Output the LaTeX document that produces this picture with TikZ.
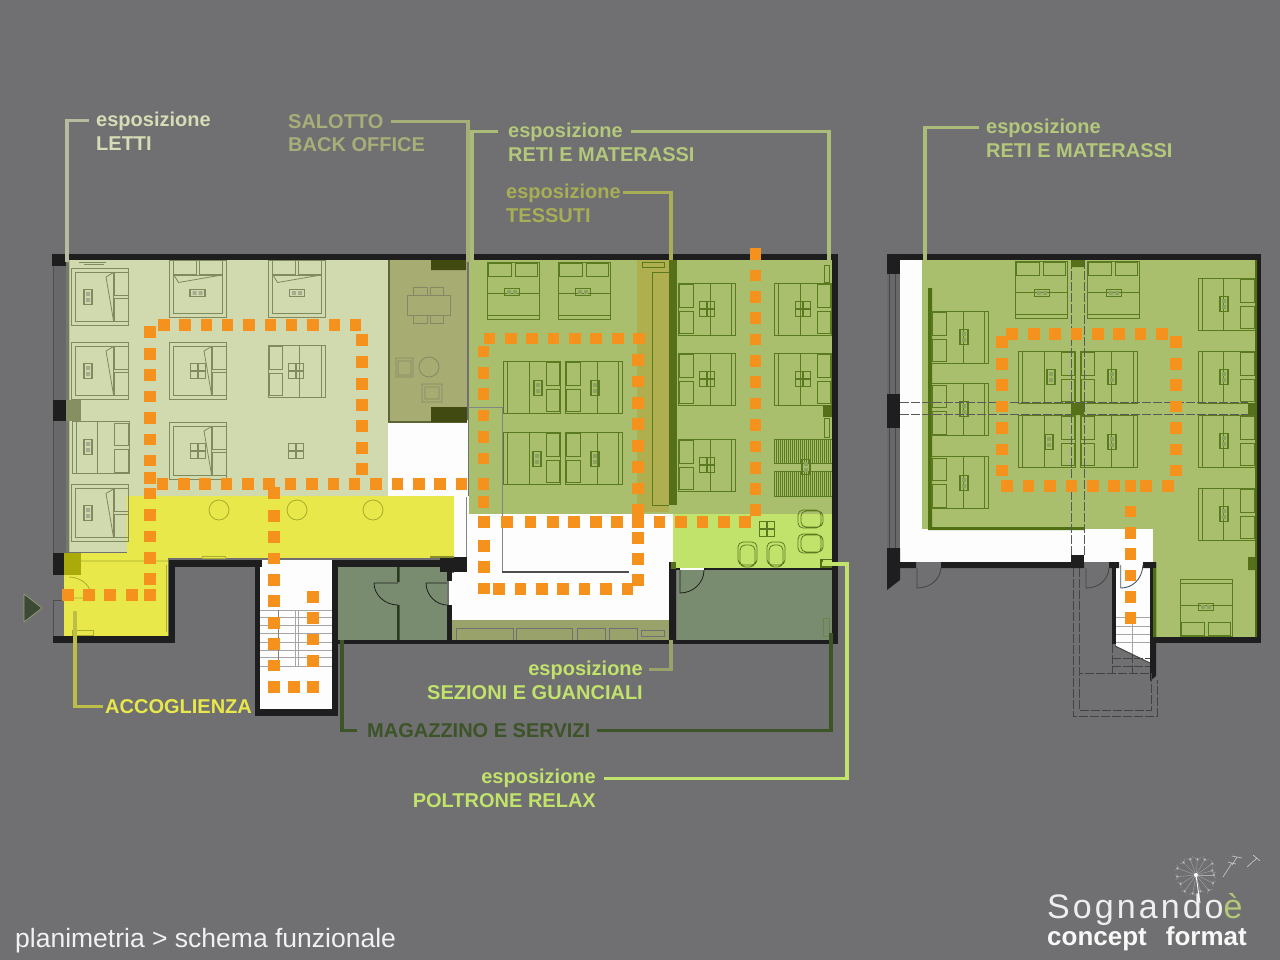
\documentclass[tikz,border=0pt]{standalone}
\usepackage{fontspec}
\setmainfont{Liberation Sans}
\newfontfamily\logofont[LetterSpace=9]{Liberation Sans}
\definecolor{bgg}{HTML}{706F71}
\definecolor{wallc}{HTML}{1E1E1E}
\definecolor{lettiz}{HTML}{D1DAAF}
\definecolor{salz}{HTML}{A6AC72}
\definecolor{salk}{HTML}{414A10}
\definecolor{greenz}{HTML}{A9BF6E}
\definecolor{tessz}{HTML}{B0AF50}
\definecolor{darkg}{HTML}{56701A}
\definecolor{wallg}{HTML}{4F7012}
\definecolor{yellz}{HTML}{E8E84B}
\definecolor{poltz}{HTML}{C2E36B}
\definecolor{magz}{HTML}{7A8C70}
\definecolor{whz}{HTML}{FDFDFD}
\definecolor{orng}{HTML}{F5921E}
\definecolor{shelf}{HTML}{9AA26C}
\definecolor{lineL}{HTML}{7F8A5E}
\definecolor{lineG}{HTML}{5A7A20}
\definecolor{lineY}{HTML}{A9AC2E}
\definecolor{txL}{HTML}{D6DDB6}
\definecolor{txS}{HTML}{A8AE78}
\definecolor{txR}{HTML}{B4C87C}
\definecolor{txT}{HTML}{A8AE55}
\definecolor{txM}{HTML}{3C5428}
\definecolor{pilA}{HTML}{858F62}
\definecolor{pilB}{HTML}{AAAA0A}
\definecolor{yedge}{HTML}{8A8D2A}
\definecolor{trif}{HTML}{3C4A35}
\definecolor{ledA}{HTML}{BDBD4A}
\definecolor{doorb}{HTML}{4A5566}
\tikzset{
  x=1bp,y=-1bp,
  fur/.style={draw=lineL,line width=.8bp},
  wall/.style={fill=wallc,draw=none},
  leadline/.style={line width=3.2bp,line cap=butt,line join=miter},
  lab/.style={inner sep=0pt,anchor=base west,font=\bfseries\fontsize{20bp}{24bp}\selectfont},
  labr/.style={inner sep=0pt,anchor=base east,font=\bfseries\fontsize{20bp}{24bp}\selectfont},
  grayline/.style={draw=#1,line width=.9bp},
  dashl/.style={draw=#1,line width=.8bp,dash pattern=on 9bp off 2bp},
}
% pillows on local +x: plain bed
\newcommand{\plainbed}[3]{\begin{scope}[shift={(#1,#2)},rotate=#3]
  \draw[fur] (-28.5,-26) rectangle (28.5,26);
  \draw[fur] (-24.5,-26) -- (-24.5,26) (-3,-26) -- (-3,26);
  \draw[fur] (14,-24.5) rectangle (27.5,-2) (14,2) rectangle (27.5,24.5);
\end{scope}}
% bed with folded sheet
\newcommand{\foldbed}[3]{\begin{scope}[shift={(#1,#2)},rotate=#3]
  \draw[fur] (-28.5,-28.5) rectangle (28.5,28.5);
  \draw[fur] (-25,-24.5) rectangle (13.5,24.5);
  \draw[fur] (14,-24.5) rectangle (28,-1.5) (14,1.5) rectangle (28,24.5);
  \draw[fur] (13.5,-24) -- (6,-19.5) -- (13.5,24);
\end{scope}}
% night stands
\newcommand{\nsv}[2]{\draw[fur,line width=1.1bp] ({#1-4},{#2-7.5}) rectangle ({#1+4},{#2+7.5});\fill[lineL!70!white] ({#1-2},{#2-5}) rectangle ({#1+2},{#2-1}) ({#1-2},{#2+1}) rectangle ({#1+2},{#2+5});}
\newcommand{\nsh}[2]{\draw[fur,line width=1.1bp] ({#1-7.5},{#2-3.5}) rectangle ({#1+7.5},{#2+3.5});\fill[lineL!70!white] ({#1-5},{#2-2}) rectangle ({#1-1},{#2+2}) ({#1+1},{#2-2}) rectangle ({#1+5},{#2+2});}
\newcommand{\nsb}[2]{\draw[fur,line width=1.1bp] ({#1-7.5},{#2-7.5}) rectangle ({#1+7.5},{#2+7.5}) (#1,{#2-7.5}) -- (#1,{#2+7.5}) ({#1-7.5},#2) -- ({#1+7.5},#2);}
\newcommand{\orsq}[1]{\foreach \qx/\qy in {#1}{\fill[orng] (\qx-5.8,\qy-5.8) rectangle (\qx+5.8,\qy+5.8);}}
\begin{document}
\begin{tikzpicture}
\useasboundingbox (0,0) rectangle (1280,960);
\fill[bgg] (0,0) rectangle (1280,960);

%%% ================= LEFT BUILDING zones
\fill[whz] (388,420) rectangle (468,497);
\fill[whz] (454,496) rectangle (673,573);
\fill[whz] (449,573) rectangle (669,621);
\fill[whz] (260,560) rectangle (332,709);
\fill[lettiz] (69,260) rectangle (388,497);
\fill[lettiz] (69,497) rectangle (127,552);
\fill[lineL,opacity=.35] (66,260) rectangle (70,552);
\fill[salz] (389,260) rectangle (467,422);
\draw[draw=salk!85!white,line width=1.3bp] (389,260) -- (389,422) -- (467,422);
\fill[salk] (431,260) rectangle (466,270) (431,407) rectangle (467,422);
\fill[greenz] (469,260) rectangle (832,514);
\fill[tessz] (637,260) rectangle (669,512);
\fill[poltz] (673,514) rectangle (832,568);
\fill[yellz] (127,496) rectangle (454,558);
\fill[yellz] (64,553) rectangle (168,636);
\fill[magz] (338,567) rectangle (447,640) (677,570) rectangle (832,640);
\fill[shelf] (452,620) rectangle (671,640);

%%% furniture, light zone
\foldbed{100}{296.5}{0}\foldbed{100}{370.5}{0}\plainbed{100.5}{447.5}{0}\foldbed{100}{513}{0}
\foldbed{198}{288.5}{90}\foldbed{297}{288.5}{90}
\foldbed{198}{370.5}{0}\plainbed{296.5}{371}{180}\foldbed{198}{450.5}{0}
\nsv{88}{297}\nsv{88}{371}\nsv{88}{447}\nsv{88}{513}
\nsh{197.5}{293}\nsh{297}{293}
\nsb{198}{371}\nsb{296}{371}\nsb{198}{451}\nsb{296}{451}
\draw[fur] (79,262) -- (106,262) (84,264) -- (104,264);
\draw[draw=lineY,line width=.8bp] (219,510) circle (10) (297,510) circle (10) (373,510) circle (10);
\draw[draw=salk!65!white,line width=.8bp] (407,295) rectangle (450,315) (413,287) rectangle (427,295) (430,287) rectangle (443,295) (413,315) rectangle (427,323) (430,315) rectangle (443,323);
\draw[draw=salk!65!white,line width=.8bp] (396,358) rectangle (413,377) (398,361) rectangle (411,375) (429,367) circle (10) (422,384) rectangle (442,402) (425,387) rectangle (439,399);
\draw[draw=lineY,line width=.8bp] (202,556) rectangle (225,558) (72,630) rectangle (93,635);
\draw[draw=lineY,line width=.8bp] (81,561) -- (168,561) (69,577) .. controls (80,577) and (90,585) .. (90,592) (69,598) -- (90,598);
\draw[draw=lineY,line width=.8bp] (166.5,565) -- (166.5,632);

%%% furniture, green zone
\tikzset{fur/.style={draw=lineG,line width=.8bp}}
\colorlet{lineL}{lineG}
\plainbed{513}{290.5}{90}\plainbed{584}{290.5}{90}
\plainbed{532}{387}{0}\plainbed{594}{387}{180}\plainbed{532}{458}{0}\plainbed{594}{458}{180}
\plainbed{707}{309}{180}\plainbed{707}{379}{180}\plainbed{707}{465}{180}
\plainbed{803}{309}{0}\plainbed{803}{379}{0}
\nsh{512}{292}\nsh{583}{292}\nsv{538}{388}\nsv{595}{388}\nsv{537}{459}\nsv{595}{459}
\nsb{707}{309}\nsb{707}{379}\nsb{707}{465}\nsb{803}{309}\nsb{803}{379}
\draw[fur] (774,439) rectangle (832,463) (774,471) rectangle (832,496);
\foreach \hx in {776,778,...,830}{\draw[draw=lineG,line width=.5bp] (\hx,440) -- (\hx,463) (\hx,472) -- (\hx,496);}
\nsv{806}{467}
\draw[draw=lineG,line width=.8bp] (642,262) rectangle (664,267) (652,505) -- (652,272) -- (669,272) (652,505) -- (669,505);
\fill[darkg] (669,260) rectangle (677,505);
\fill[darkg] (823,405) rectangle (832,417);
\draw[fur] (824,265) rectangle (829,282) (824,418) rectangle (829,437);
\nsb{767}{529}
\draw[fur,rounded corners=5bp] (798,510) rectangle (821,528) (801,511) rectangle (823,527) (798,534) rectangle (821,553) (801,535) rectangle (823,552) (738,542) rectangle (757,565) (740,545) rectangle (755,567) (767,542) rectangle (785,565) (769,545) rectangle (783,567);
\fill[darkg] (820,559) rectangle (832,568);
\fill[poltz] (823,560) rectangle (832,563);

%%% white-zone grey lines
\draw[grayline=bgg!85!white] (466,497) -- (466,560);
\draw[grayline=bgg!85!white] (468,407) -- (502,407) -- (502,572);
\draw[draw=bgg!70!black,line width=1.2bp] (502,572) -- (629,572);

%%% shelf details
\draw[draw=bgg,line width=.8bp] (456.5,628) rectangle (513,640) (516.5,628) rectangle (572.6,640) (577.7,628) rectangle (605,640) (609,628) rectangle (637,640) (641,630) rectangle (664,636);

%%% stairs lines left
\foreach \sy in {610,617,625,633,642,650,657,666}{\draw[grayline=gray!70!white] (260,\sy) -- (332,\sy);}
\draw[grayline=gray!70!white] (295,610) -- (295,666) (298,610) -- (298,666);
\draw[grayline=gray] (278,610) -- (278,666);

%%% magazzino details
\fill[txM!70!black] (397,567) rectangle (399.5,582) (397,605) rectangle (399.5,640);
\draw[draw=wallc,line width=.8bp] (374,583) -- (398,583) (374,583) .. controls (374,595) and (385,605) .. (398,605);
\draw[draw=wallc,line width=.8bp] (426,583) -- (447,583) (426,583) .. controls (426,595) and (436,605) .. (447,605);
\draw[draw=wallc,line width=.8bp] (680,570) -- (680,593) .. controls (693,593) and (704,583) .. (704,570);
\draw[draw=lineG!50!magz,line width=.8bp] (823,618) rectangle (829,636);

%%% left building walls
\fill[bgg!93!black] (53,266) rectangle (66,553);
\draw[draw=bgg!70!black,line width=.7bp] (53,266) -- (53,400) (53,421) -- (53,553) (53,600) -- (53,636) -- (64,636) (53,600) -- (64,600);
\fill[wall] (52,254) rectangle (838,260);
\fill[wall] (52,254) rectangle (66,266);
\fill[wall] (832,254) rectangle (838,644);
\fill[wall] (53,400) rectangle (66,421);
\fill[pilA] (66,400) rectangle (81,421);
\fill[wall] (53,553) rectangle (64,575);
\fill[pilB] (64,553) rectangle (81,575);
\fill[wall] (53,636) rectangle (175,643);
\fill[wall] (168.5,560) rectangle (175,643);
\fill[wall] (168.5,560) rectangle (262,567);
\fill[wall] (255,560) rectangle (260,716);
\fill[wall] (255,709) rectangle (338,716);
\fill[wall] (332,560) rectangle (338,716);
\fill[wall] (338,560) rectangle (447,567);
\fill[wall] (338,640) rectangle (838,644);
\fill[wall] (440,557) rectangle (467,572);
\fill[wall] (447,572) rectangle (452,581);
\fill[wall] (447,605) rectangle (452,640);
\fill[wall] (669,562) rectangle (676,640);
\fill[wall] (676,568) rectangle (832,570);
\fill[whz] (680,568) rectangle (704,570);
\fill[darkg] (671,562) rectangle (676,569);
\fill[yedge] (430,556) rectangle (454,558);
\fill[trif,draw=txR!55!bgg,line width=.7bp] (24,594) -- (42,608) -- (24,622) -- cycle;

%%% ================= RIGHT BUILDING
\fill[bgg!93!black] (887,274) rectangle (900,394) (887,428) rectangle (900,548);
\draw[draw=bgg!65!black,line width=.6bp] (889,274) -- (889,394) (889,428) -- (889,548) (895,274) -- (895,394) (895,428) -- (895,548);
\fill[whz] (900,260) rectangle (1153,562);
\fill[whz] (1116,562) -- (1150,562) -- (1150,663) -- (1116,646) -- cycle;
\fill[greenz] (922,260) rectangle (1255,529);
\fill[greenz] (1153,529) rectangle (1255,637);
\fill[wallg] (928,288) rectangle (932,530) (928,527) rectangle (1084,530);
\plainbed{960}{337}{180}\plainbed{960}{409.5}{180}\plainbed{960}{482.5}{180}
\plainbed{1041}{289.5}{90}\plainbed{1113}{289.5}{90}
\plainbed{1047}{377}{0}\plainbed{1108.5}{377}{180}\plainbed{1047}{441}{0}\plainbed{1108.5}{441}{180}
\plainbed{1226.5}{304}{0}\plainbed{1226.5}{377}{0}\plainbed{1226.5}{441}{0}\plainbed{1226.5}{514}{0}
\plainbed{1206}{608}{270}
\nsv{964}{337}\nsv{964}{409}\nsv{964}{483}
\nsh{1042}{293}\nsh{1114}{293}
\nsv{1051}{377}\nsv{1112}{377}\nsv{1049}{442}\nsv{1112}{442}
\nsv{1224}{304}\nsv{1224}{377}\nsv{1224}{441}\nsv{1224}{514}
\nsh{1206}{607}
\draw[dashl=bgg!80!black] (1071.7,260) -- (1071.7,555) (1084,260) -- (1084,555);
\draw[dashl=bgg!80!black] (900,402.7) -- (1248,402.7) (900,414.7) -- (1248,414.7);
\fill[darkg] (1071,260) rectangle (1084,267) (1071,403) rectangle (1084,415) (1248,403) rectangle (1256,415) (1248,557) rectangle (1256,570);
\foreach \sy in {617,626,634,642}{\draw[grayline=gray!70!white] (1116,\sy) -- (1150,\sy);}
\draw[grayline=gray!70!white] (1132,617) -- (1132,654);
\draw[draw=bgg!60!black,line width=1bp] (1115,646) -- (1150,663);
% right walls
\fill[wall] (887,254) rectangle (1261,260);
\fill[wall] (887,254) rectangle (900,274);
\fill[wall] (887,394) rectangle (900,428);
\fill[wall] (887,548) -- (900,548) -- (900,580) -- (887,590) -- cycle;
\fill[wall] (900,562) rectangle (916,568) (941,562) rectangle (1084,568);
\fill[wall] (1071,555) rectangle (1084,568);
\fill[wall] (1109,562) rectangle (1119,568) (1143,562) rectangle (1156,568);
\fill[wall] (1112,562) rectangle (1116,644);
\fill[wall] (1150,562) -- (1156,562) -- (1156,676) -- (1150,681) -- cycle;
\fill[wall] (1150,637) rectangle (1261,643);
\fill[wall] (1257,254) rectangle (1261,643);
\fill[wallg] (1255,260) rectangle (1257,637) (1153,568) rectangle (1156,637);
\draw[draw=bgg!60!black,line width=.8bp] (917,568) -- (917,588) .. controls (930,588) and (940,580) .. (941,568);
\draw[draw=bgg!60!black,line width=.8bp] (1086,568) -- (1086,588) .. controls (1099,588) and (1108,580) .. (1109,568);
\draw[draw=doorb,line width=.9bp] (1120.7,565) -- (1120.7,588) .. controls (1132,588) and (1142,580) .. (1143,565);
\draw[dashl=bgg!60!black] (1073,568) -- (1073,716) -- (1157,716) -- (1157,680);
\draw[dashl=bgg!60!black] (1079,568) -- (1079,710) -- (1151,710) -- (1151,673) -- (1079,673);
\draw[dashl=bgg!60!black] (1112,644) -- (1112,673) (1132,654) -- (1132,673) (1112,658) -- (1150,658) (1112,666) -- (1150,666);

%%% ================= LABELS
\node[lab,text=txL] (espL) at (96,126) {esposizione};
\node[lab,text=txL] (lettiL) at (96,150.5) {LETTI};
\node[lab,text=txS] (salL) at (288,128) {SALOTTO};
\node[lab,text=txS] (backL) at (288,151.5) {BACK OFFICE};
\node[lab,text=txR] (espR) at (508,137) {esposizione};
\node[lab,text=txR] (retiR) at (508,161.5) {RETI E MATERASSI};
\node[lab,text=txT] (espT) at (506,198) {esposizione};
\node[lab,text=txT] (tessT) at (506,222.5) {TESSUTI};
\node[lab,text=txR] (espR2) at (986,133) {esposizione};
\node[lab,text=txR] (retiR2) at (986,157) {RETI E MATERASSI};
\node[lab,text=yellz] (accL) at (105,713) {ACCOGLIENZA};
\node[labr,text=poltz] (espS) at (643,675) {esposizione};
\node[labr,text=poltz] (sezS) at (643,699.5) {SEZIONI E GUANCIALI};
\node[lab,text=txM] (magL) at (367,737) {MAGAZZINO E SERVIZI};
\node[labr,text=poltz] (espP) at (596,783.5) {esposizione};
\node[labr,text=poltz] (polP) at (596,807.5) {POLTRONE RELAX};
\node[inner sep=0pt,anchor=base west,text=white!90!bgg,font=\fontsize{26.5bp}{30bp}\selectfont] (titolo) at (15,947) {planimetria > schema funzionale};
\node[inner sep=0pt,anchor=base west,text=white!88!bgg,font=\logofont\fontsize{34bp}{38bp}\selectfont] (logoa) at (1047,918) {Sognando\textcolor{txR}{è}};
\node[inner sep=0pt,anchor=base west,text=white!95!bgg,font=\bfseries\fontsize{26bp}{30bp}\selectfont] (logob) at (1047,945) {concept\hspace{19bp}format};

%%% ================= LEADERS
\coordinate (eL) at (67,262);
\coordinate (eS) at (468,262);
\coordinate (eRa) at (472,262);
\coordinate (eRb) at (829,262);
\coordinate (eT) at (671,260);
\coordinate (eR2) at (925,260);
\coordinate (eA) at (75,611);
\coordinate (eE) at (671,640);
\coordinate (eMa) at (342,640);
\coordinate (eMb) at (831,633);
\coordinate (eP) at (822,564);
\coordinate (cP) at (847,564);
\draw[leadline,draw=txL!70!bgg] ([xshift=-7bp]espL.west) -| (eL);
\draw[leadline,draw=txS] ([xshift=7bp]salL.east) -| (eS);
\draw[leadline,draw=txR!85!bgg] ([xshift=-10bp]espR.west) -| (eRa);
\draw[leadline,draw=txR!85!bgg] ([xshift=8bp]espR.east) -| (eRb);
\draw[leadline,draw=txT] ([xshift=2bp]espT.east) -| (eT);
\draw[leadline,draw=txR!85!bgg] ([xshift=-7bp]espR2.west) -| (eR2);
\draw[leadline,draw=ledA] ([xshift=-2bp]accL.west) -| (eA);
\draw[leadline,draw=shelf] ([xshift=6bp]espS.east) -| (eE);
\draw[leadline,draw=txM] ([xshift=-10bp]magL.west) -| (eMa);
\draw[leadline,draw=txM] ([xshift=7bp]magL.east) -| (eMb);
\draw[leadline,draw=poltz] ([xshift=8bp]espP.east) -| (cP) -- (eP);

%%% ================= ROUTE DOTS
\foreach \k in {0,...,9}{\pgfmathsetmacro\qx{163.7+21.33*\k}\fill[orng] (\qx-5.8,319.2) rectangle (\qx+5.8,330.8);}
\orsq{149.7/332,149.7/353.7,149.7/375,149.7/396.3,149.7/418,149.7/439.3,149.7/460.3,149.7/477.7,149.7/493.3,149.7/515,149.7/536.3,149.7/557.7,149.7/579,149.7/595,67.7/595,88.7/595,110/595,131.7/595}
\orsq{361.7/340,361.7/362,361.7/383.7,361.7/405,361.7/426,361.7/447.7,361.7/469}
\orsq{162.3/484,183.7/484,205/484,226.3/484,247.7/484,269/484,290.3/484,312/484,333.3/484,354.3/484,376/484,397.3/484,418.7/484,440/484,461.3/484}
\orsq{274/492.7,274/515.7,274/537,274/558.3,274/580,274/601,274/622.7,274/644,274/665.3,274/687,293.7/687,313/687,313/596.7,313/618,313/639.3,313/660.7}
\orsq{489.3/338.3,510.7/338.3,532/338.3,553.3/338.3,574.7/338.3,596/338.3,617.7/338.3,639/338.3}
\orsq{483.3/351.3,483.3/372.7,483.3/394,483.3/415.3,483.3/437,483.3/458.3,483.3/484,483.3/502,483.7/521.7,483.7/545.7,483.7/567,483.7/588.3}
\orsq{638/360,638/381.3,638/402.7,638/424,638/445.7,638/467,638/488.3,638/509.7,638/521.7,638/537.7,638/558.7,638/580}
\orsq{507/521.7,530.3/521.7,552.7/521.7,574/521.7,595.7/521.7,617/521.7,659.3/521.7,680.7/521.7,702.3/521.7,723.7/521.7,745/521.7}
\orsq{755.3/254,755.3/275.3,755.3/296.7,755.3/318,755.3/339.3,755.3/360.7,755.3/382,755.3/403.3,755.3/424.7,755.3/446.3,755.3/467.7,755.3/488.7,755.3/510}
\orsq{499/589,520.5/589,542/589,563/589,584.4/589,605.8/589,627.5/589}
% right building
\orsq{1012/333.7,1033.7/333.7,1055/333.7,1076.3/333.7,1097.7/333.7,1119/333.7,1140.3/333.7,1162/333.7}
\orsq{1002/342,1002/363.7,1002/385,1002/406.3,1002/428,1002/449.3,1002/470.3}
\orsq{1176/342,1176/363.7,1176/385,1176/406.3,1176/428,1176/449.3,1176/470.3}
\orsq{1007/485.7,1028.3/485.7,1050/485.7,1071.3/485.7,1092.7/485.7,1114/485.7,1130.3/485.7,1146/485.7,1167.7/485.7}
\orsq{1130.3/511.3,1130.3/532.7,1130.3/554,1130.3/575.3,1130.3/596.7,1130.3/618}

%%% ================= DANDELION
\coordinate (head) at (1196,875);
\foreach \a/\r in {0/18,25/19,50/20,75/17,100/19,125/20,150/18,175/19,200/20,225/18,250/17,275/16,300/18,325/20,345/17}{
  \draw[draw=white!40!bgg,line width=.35bp] (head) -- ++(\a:\r);
  \fill[white!60!bgg] (head) ++(\a:\r) circle (1);
  \draw[draw=white!35!bgg,line width=.3bp] (head) ++(\a:{\r-2}) -- ++({\a+40}:5) (head) ++(\a:{\r-2}) -- ++({\a-40}:5);
}
\fill[white] (head) circle (2);
\draw[draw=white,line width=.9bp] (head) -- (1200,903);
\draw[draw=white!65!bgg,line width=.6bp] (1223,877) -- (1232,863) (1228,862) -- (1236,864);
\draw[draw=white!65!bgg,line width=.6bp] (1232,865) -- (1237,857) (1232,856) -- (1242,858);
\draw[draw=white!65!bgg,line width=.6bp] (1247,867) -- (1257,858) (1253,855) -- (1260,861);
\end{tikzpicture}
\end{document}
